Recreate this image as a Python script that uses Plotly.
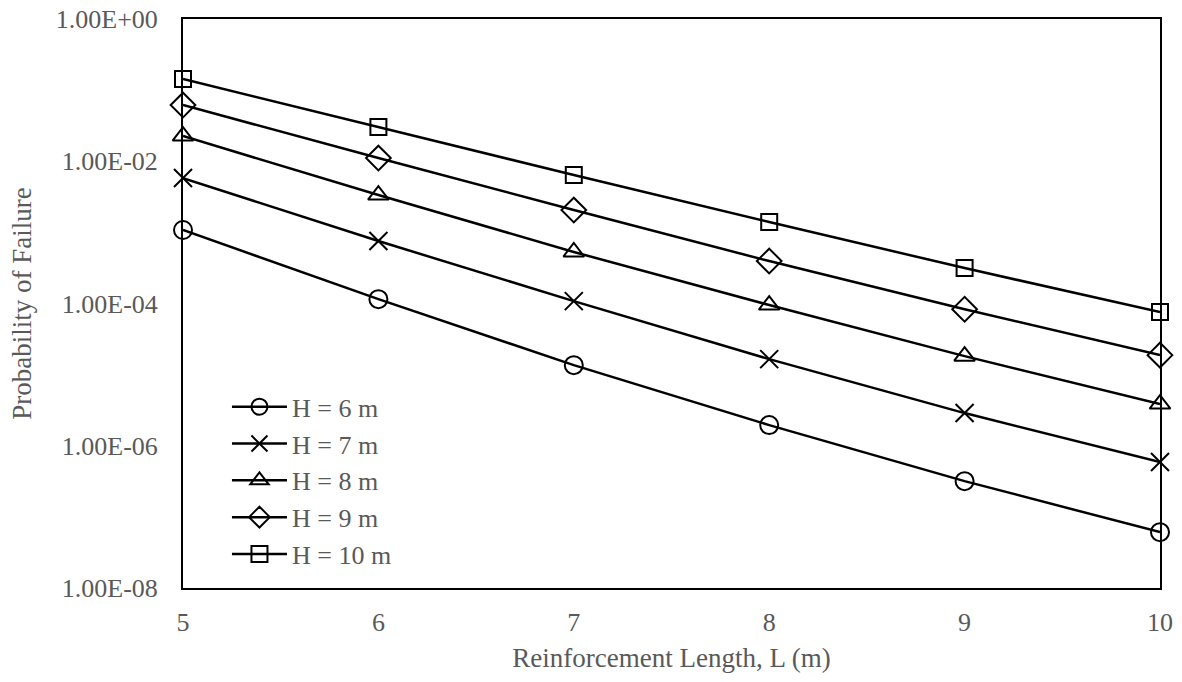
import plotly.graph_objects as go

L = [5, 6, 7, 8, 9, 10]
H6 = [1.08e-3, 1.15e-4, 1.36e-5, 1.95e-6, 3.18e-7, 6.1e-8]
H7 = [5.8e-3, 7.55e-4, 1.08e-4, 1.65e-5, 2.88e-6, 5.9e-7]
H8 = [2.26e-2, 3.35e-3, 5.3e-4, 9.5e-5, 1.82e-5, 3.85e-6]
H9 = [6.17e-2, 1.11e-2, 2.06e-3, 3.95e-4, 8.3e-5, 1.88e-5]
H10 = [0.143, 3.03e-2, 6.4e-3, 1.40e-3, 3.15e-4, 7.57e-5]
names = ["H = 6 m", "H = 7 m", "H = 8 m", "H = 9 m", "H = 10 m"]
ytickvals = [1, 1e-2, 1e-4, 1e-6, 1e-8]
yticktext = ["1.00E+00", "1.00E-02", "1.00E-04", "1.00E-06", "1.00E-08"]

series = [H6, H7, H8, H9, H10]
symbols = ["circle-open", "x-thin-open", "triangle-up-open", "diamond-open", "square-open"]
sizes = [18, 18, 18, 19, 16]

FONT = "Liberation Serif, Times New Roman, serif"
GREY = "#595959"

fig = go.Figure()
for name, ys, sym, sz in zip(names, series, symbols, sizes):
    fig.add_trace(go.Scatter(
        x=L, y=ys, name=name, mode="lines+markers",
        line=dict(color="black", width=2.5),
        marker=dict(symbol=sym, size=sz, color="black",
                    line=dict(color="black", width=2)),
        cliponaxis=False,
    ))

fig.update_layout(
    width=1182, height=682,
    margin=dict(l=183, r=22, t=19, b=94),
    paper_bgcolor="white", plot_bgcolor="white",
    font=dict(family=FONT, size=26, color=GREY),
    showlegend=True,
    legend=dict(x=0.045, y=0.017, xanchor="left", yanchor="bottom",
                bgcolor="rgba(0,0,0,0)", font=dict(size=26, color=GREY),
                traceorder="normal", tracegroupgap=0, itemwidth=55),
)
fig.update_xaxes(
    range=[5, 10], tickvals=L, ticktext=[str(v) for v in L],
    showgrid=False, zeroline=False, automargin=False,
    showline=True, linecolor="black", linewidth=2, mirror=True,
    ticks="", ticklabelstandoff=10,
    tickfont=dict(size=26, color=GREY),
    title=dict(text="Reinforcement Length, L (m)", font=dict(size=27, color=GREY), standoff=12),
)
fig.update_yaxes(
    type="log", range=[-8, 0], tickvals=ytickvals, ticktext=yticktext,
    showgrid=False, zeroline=False, automargin=False,
    showline=True, linecolor="black", linewidth=2, mirror=True,
    ticks="", ticklabelstandoff=18,
    tickfont=dict(size=26, color=GREY),
    title=dict(text="Probability of Failure", font=dict(size=27, color=GREY), standoff=16),
)

fig.write_html("out.html", config={"displayModeBar": False},
               post_script="document.body.style.margin='0';")
